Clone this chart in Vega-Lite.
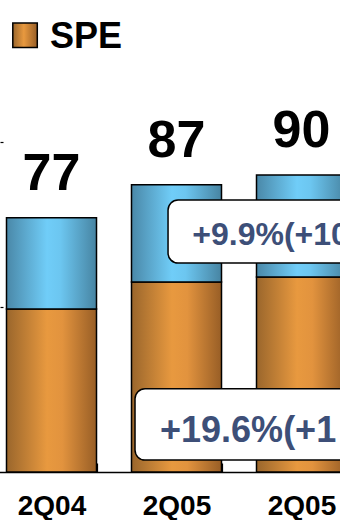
{
  "$schema": "https://vega.github.io/schema/vega-lite/v6.json",
  "width": 340,
  "height": 472,
  "autosize": {"type": "none"},
  "padding": {"left": 0, "top": 0, "right": 0, "bottom": 48},
  "background": "white",
  "config": {
    "view": {"stroke": null},
    "font": "Liberation Sans"
  },
  "datasets": {
    "bars": [
      {"period": "2Q04", "spe": 49.4, "total": 77},
      {"period": "2Q05a", "spe": 57.6, "total": 87},
      {"period": "2Q05b", "spe": 59.1, "total": 90}
    ],
    "legend": [
      {"period": "2Q04", "symboly": 132.3, "texty": 128.6, "label": "SPE"}
    ],
    "callout1": [
      {"from": "2Q05a", "to": "2Q05b", "top": 82.4, "bottom": 63.3, "texty": 68.8, "label": "+9.9%(+10"}
    ],
    "callout2": [
      {"from": "2Q05a", "to": "2Q05b", "top": 25.2, "bottom": 3.6, "texty": 9.1, "label": "+19.6%(+1"}
    ]
  },
  "layer": [
    {
      "data": {"name": "bars"},
      "mark": {
        "type": "bar",
        "stroke": "black",
        "strokeWidth": 1.5,
        "fill": {
          "gradient": "linear", "x1": 0, "x2": 1, "y1": 0, "y2": 0,
          "stops": [
            {"offset": 0, "color": "#9a662c"},
            {"offset": 0.45, "color": "#e8993f"},
            {"offset": 0.62, "color": "#e2933e"},
            {"offset": 1, "color": "#985e26"}
          ]
        }
      },
      "encoding": {
        "x": {
          "field": "period", "type": "nominal", "sort": null,
          "scale": {"domain": ["2Q04", "2Q05a", "2Q05b"], "range": [-11, 364], "paddingInner": 0.28, "paddingOuter": 0.14},
          "axis": {
            "title": null,
            "labelExpr": "slice(datum.label, 0, 4)",
            "labelAngle": 0,
            "labelFont": "Liberation Sans",
            "labelFontSize": 28,
            "labelFontWeight": "bold",
            "labelColor": "black",
            "labelPadding": 29,
            "labelBaseline": "top",
            "domainColor": "black",
            "domainWidth": 1.5,
            "tickBand": "extent",
            "tickSize": -9,
            "tickColor": "black",
            "tickWidth": 1.2,
            "grid": false
          }
        },
        "y": {
          "field": "spe", "type": "quantitative",
          "scale": {"domain": [0, 143], "nice": false, "zero": true},
          "axis": {
            "title": null,
            "labels": false,
            "domain": false,
            "grid": false,
            "values": [50, 100],
            "tickSize": -3,
            "tickColor": "black",
            "tickWidth": 1.2
          }
        },
        "y2": {"datum": 0}
      }
    },
    {
      "data": {"name": "bars"},
      "mark": {
        "type": "bar",
        "stroke": "black",
        "strokeWidth": 1.5,
        "fill": {
          "gradient": "linear", "x1": 0, "x2": 1, "y1": 0, "y2": 0,
          "stops": [
            {"offset": 0, "color": "#4a88a8"},
            {"offset": 0.45, "color": "#70cdf8"},
            {"offset": 0.6, "color": "#6cc6f0"},
            {"offset": 1, "color": "#4784a2"}
          ]
        }
      },
      "encoding": {
        "x": {"field": "period", "type": "nominal", "sort": null},
        "y": {"field": "spe", "type": "quantitative"},
        "y2": {"field": "total"}
      }
    },
    {
      "data": {"name": "bars"},
      "mark": {"type": "text", "font": "Liberation Sans", "fontSize": 52, "fontWeight": "bold", "baseline": "alphabetic", "dy": -28, "color": "black"},
      "encoding": {
        "x": {"field": "period", "type": "nominal", "sort": null},
        "y": {"field": "total", "type": "quantitative"},
        "text": {"field": "total", "type": "quantitative"}
      }
    },
    {
      "data": {"name": "legend"},
      "mark": {
        "type": "point",
        "shape": "square",
        "size": 600,
        "filled": true,
        "opacity": 1,
        "stroke": "black",
        "strokeWidth": 1.5,
        "fill": {
          "gradient": "linear", "x1": 0, "x2": 1, "y1": 0, "y2": 0,
          "stops": [
            {"offset": 0, "color": "#9a662c"},
            {"offset": 0.45, "color": "#e8993f"},
            {"offset": 1, "color": "#985e26"}
          ]
        }
      },
      "encoding": {
        "x": {"field": "period", "type": "nominal", "bandPosition": 0.206},
        "y": {"field": "symboly", "type": "quantitative"}
      }
    },
    {
      "data": {"name": "legend"},
      "mark": {"type": "text", "align": "left", "baseline": "alphabetic", "font": "Liberation Sans", "fontSize": 36, "fontWeight": "bold", "color": "black"},
      "encoding": {
        "x": {"field": "period", "type": "nominal", "bandPosition": 0.483},
        "y": {"field": "texty", "type": "quantitative"},
        "text": {"field": "label"}
      }
    },
    {
      "data": {"name": "callout1"},
      "mark": {"type": "rect", "fill": "white", "stroke": "black", "strokeWidth": 1.5, "cornerRadius": 10},
      "encoding": {
        "x": {"field": "from", "type": "nominal", "bandPosition": 0.406},
        "x2": {"field": "to", "bandPosition": 1.5},
        "y": {"field": "top", "type": "quantitative"},
        "y2": {"field": "bottom"}
      }
    },
    {
      "data": {"name": "callout1"},
      "mark": {"type": "text", "align": "left", "baseline": "alphabetic", "font": "Liberation Sans", "fontSize": 32, "fontWeight": "bold", "color": "#3d4f78"},
      "encoding": {
        "x": {"field": "from", "type": "nominal", "bandPosition": 0.675},
        "y": {"field": "texty", "type": "quantitative"},
        "text": {"field": "label"}
      }
    },
    {
      "data": {"name": "callout2"},
      "mark": {"type": "rect", "fill": "white", "stroke": "black", "strokeWidth": 1.5, "cornerRadius": 10},
      "encoding": {
        "x": {"field": "from", "type": "nominal", "bandPosition": 0.039},
        "x2": {"field": "to", "bandPosition": 1.5},
        "y": {"field": "top", "type": "quantitative"},
        "y2": {"field": "bottom"}
      }
    },
    {
      "data": {"name": "callout2"},
      "mark": {"type": "text", "align": "left", "baseline": "alphabetic", "font": "Liberation Sans", "fontSize": 36, "fontWeight": "bold", "color": "#3d4f78"},
      "encoding": {
        "x": {"field": "from", "type": "nominal", "bandPosition": 0.317},
        "y": {"field": "texty", "type": "quantitative"},
        "text": {"field": "label"}
      }
    }
  ]
}
